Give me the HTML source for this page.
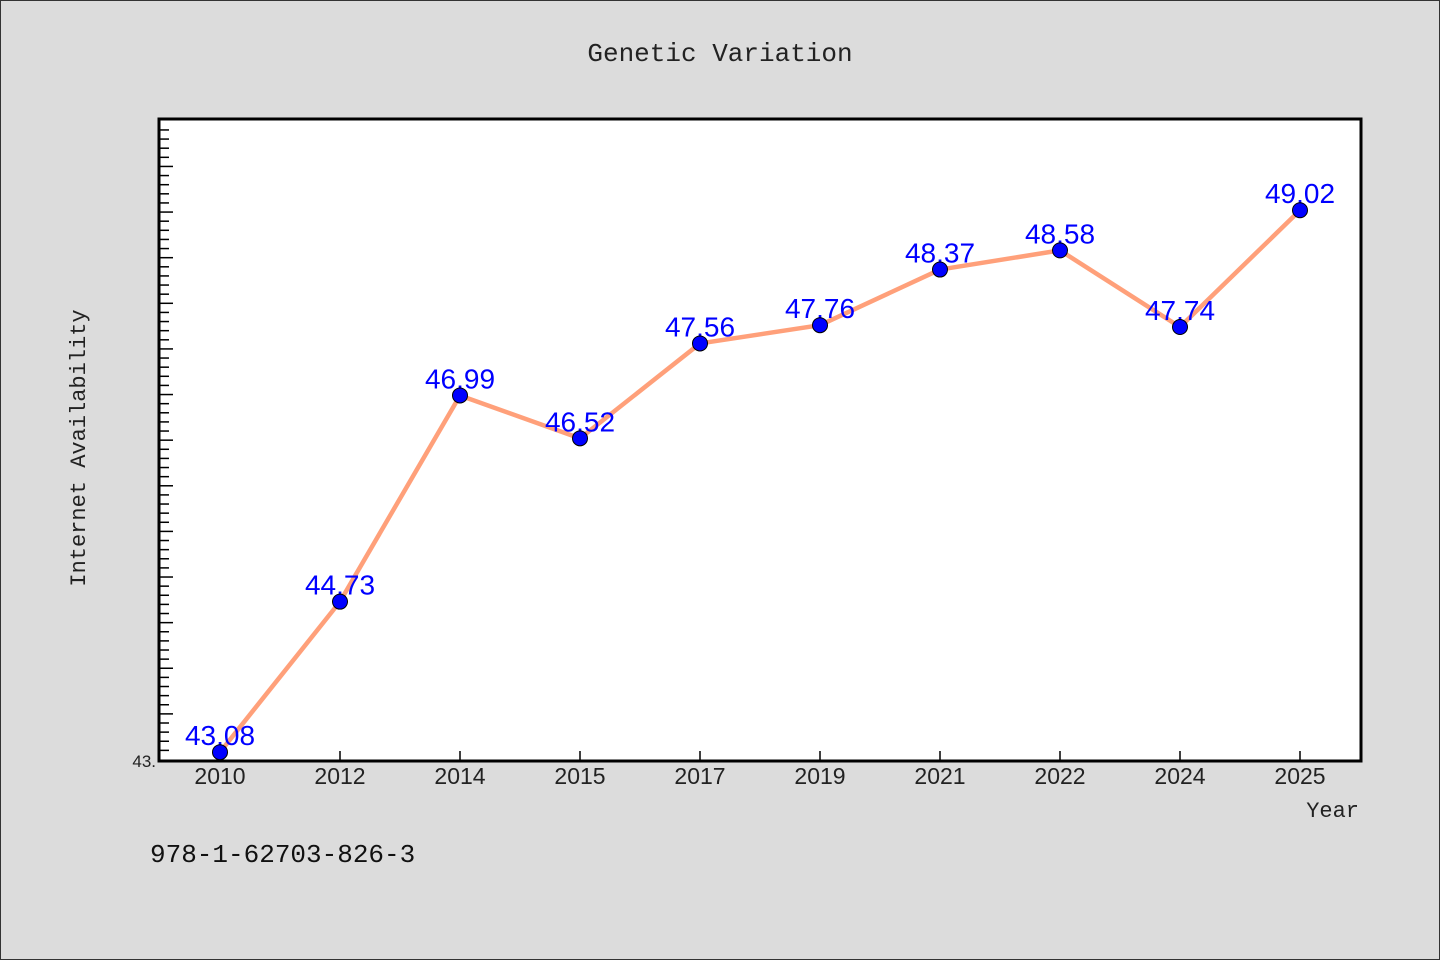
<!DOCTYPE html>
<html><head><meta charset="utf-8"><style>
html,body{margin:0;padding:0;background:#dcdcdc}
svg{display:block}
</style></head><body>
<svg id="chart" width="1440" height="960" xmlns="http://www.w3.org/2000/svg">
<rect x="0.5" y="0.5" width="1439" height="959" fill="#dcdcdc" stroke="#333" stroke-width="1"/>
<text x="720" y="61" text-anchor="middle" font-family="Liberation Mono, DejaVu Sans Mono, monospace" font-size="26" fill="#222">Genetic Variation</text>
<rect x="159" y="119" width="1202" height="642" fill="#fff"/>
<g id="ticks"></g>
<g id="series"></g>
<rect x="159" y="119" width="1202" height="642" fill="none" stroke="#000" stroke-width="3"/>
<text transform="translate(85,448) rotate(-90)" text-anchor="middle" font-family="Liberation Mono, DejaVu Sans Mono, monospace" font-size="22" fill="#222">Internet Availability</text>
<text x="1359" y="817" text-anchor="end" font-family="Liberation Mono, DejaVu Sans Mono, monospace" font-size="22" fill="#222">Year</text>
<text x="156" y="767" text-anchor="end" font-family="Liberation Sans, sans-serif" font-size="17" fill="#222">43.</text>
<text x="150" y="862" font-family="Liberation Mono, DejaVu Sans Mono, monospace" font-size="26" fill="#111">978-1-62703-826-3</text>
</svg>
<script>
const categories = ["2010","2012","2014","2015","2017","2019","2021","2022","2024","2025"];
const values = [43.08,44.73,46.99,46.52,47.56,47.76,48.37,48.58,47.74,49.02];
const labels = ["43.08","44.73","46.99","46.52","47.56","47.76","48.37","48.58","47.74","49.02"];
const yMin = 43, yMax = 50.02;
(function(){
const NS="http://www.w3.org/2000/svg";
const pTop=119,pBottom=759.5,pLeft=159;
function yS(v){return pBottom-(v-yMin)/(yMax-yMin)*(pBottom-pTop);}
function xS(i){return 220+i*120;}
function mk(t,a,p){const e=document.createElementNS(NS,t);for(const k in a)e.setAttribute(k,a[k]);p.appendChild(e);return e;}
const tg=document.getElementById('ticks');
for(let k=1;k<=70;k++){
  const v=yMin+k*0.1; const yy=yS(v); if(yy<pTop+4)break;
  const major=k%5===0;
  const t=mk('line',{x1:pLeft,x2:pLeft+(major?14:10),y1:yy,y2:yy,stroke:'#000','stroke-width':1.5},tg);
  
  
}
categories.forEach((c,i)=>{
  const t=mk('line',{x1:xS(i),x2:xS(i),y1:761,y2:751,stroke:'#000','stroke-width':1.5},tg);
  
  
  const l=mk('text',{x:xS(i),y:784,'text-anchor':'middle','font-family':'Liberation Sans, sans-serif','font-size':23,fill:'#222'},tg);
  l.textContent=c;
  
  
});
const sg=document.getElementById('series');
const pts=values.map((v,i)=>xS(i)+','+yS(v)).join(' ');
const line=mk('polyline',{points:pts,fill:'none',stroke:'#ffa07a','stroke-width':4.5,'stroke-linejoin':'round'},sg);


values.forEach((v,i)=>{
  const l=mk('text',{x:xS(i),y:yS(v)-7,'text-anchor':'middle','font-family':'Liberation Sans, sans-serif','font-size':28,fill:'#0000ff'},sg);
  l.textContent=labels[i];
  
  
});
values.forEach((v,i)=>{
  const c=mk('circle',{cx:xS(i),cy:yS(v),r:7.5,fill:'#0000ff',stroke:'#000','stroke-width':1},sg);
  
  
});
})();
</script>
</body></html>
